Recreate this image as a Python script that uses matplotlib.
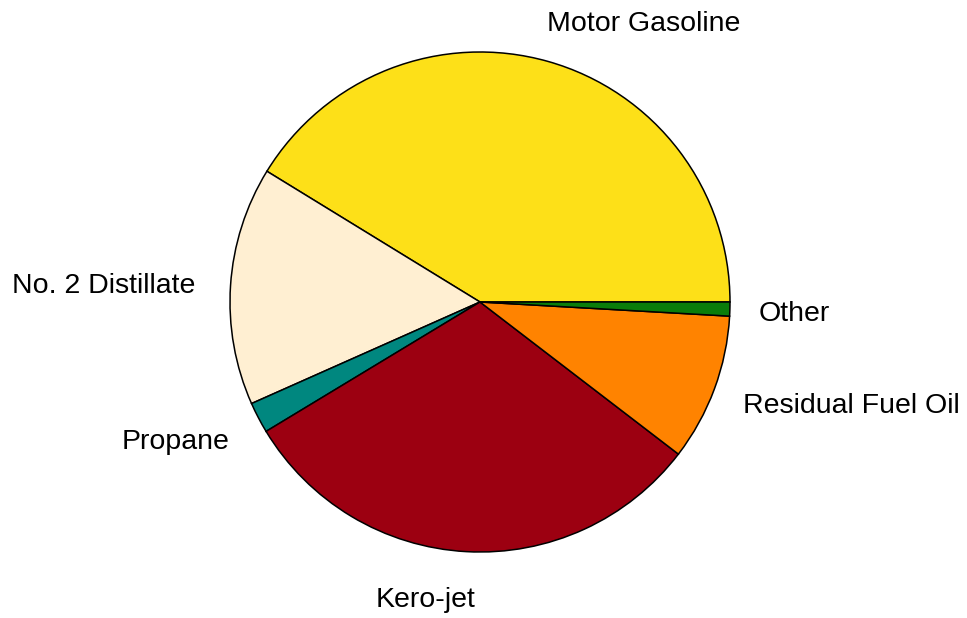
import matplotlib
matplotlib.use("Agg")
import matplotlib.pyplot as plt

# Share of petroleum products (percent), counterclockwise from 0 degrees
labels = ["Motor Gasoline", "No. 2 Distillate", "Propane", "Kero-jet",
          "Residual Fuel Oil", "Other"]
shares = [41.2, 15.4, 2.0, 30.9, 9.5, 0.9]
colors = ["#FDE018", "#FFEFD2", "#00877F", "#9C0011", "#FF8300", "#0A7D0A"]

# label positions in pixels (x, y from top)
label_pos = [(644, 24), (104, 286), (176, 442), (426, 600),
             (851, 406), (794, 314)]


def main():
    plt.rcParams["font.family"] = ["Liberation Sans", "DejaVu Sans"]
    fig = plt.figure(figsize=(9.67, 6.18), dpi=100)
    ax = fig.add_axes([0, 0, 1, 1])
    ax.set_xlim(0, 967)
    ax.set_ylim(0, 618)
    ax.set_aspect("equal")
    ax.axis("off")

    ax.pie(shares, colors=colors, startangle=0, counterclock=True,
           center=(480, 618 - 302), radius=250,
           wedgeprops={"edgecolor": "black", "linewidth": 1.1})
    ax.set_xlim(0, 967)
    ax.set_ylim(0, 618)

    for text, (x, y) in zip(labels, label_pos):
        ax.text(x, 618 - y, text, ha="center", va="center", fontsize=20.5)

    fig.savefig("out.png", dpi=100)


if __name__ == "__main__":
    main()
